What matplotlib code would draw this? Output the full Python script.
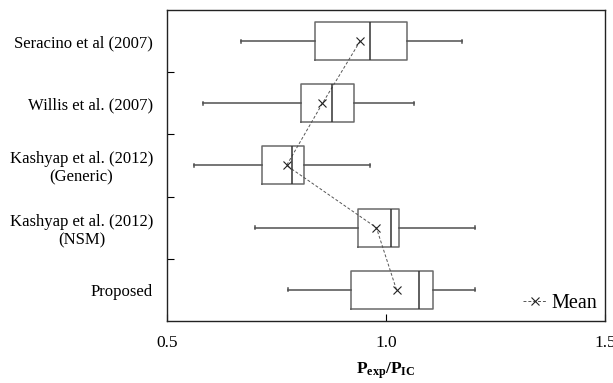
import matplotlib
matplotlib.use("Agg")
import matplotlib.pyplot as plt

plt.rcParams['font.family'] = ['Liberation Serif', 'DejaVu Serif']
plt.rcParams['mathtext.fontset'] = 'custom'
plt.rcParams['mathtext.bf'] = 'Liberation Serif:bold'
plt.rcParams['mathtext.rm'] = 'Liberation Serif'

# data (top to bottom)
labels = ['Seracino et al (2007)', 'Willis et al. (2007)',
          'Kashyap et al. (2012)\n(Generic)', 'Kashyap et al. (2012)\n(NSM)',
          'Proposed']
whislo = [0.670, 0.583, 0.562, 0.701, 0.776]
q1 = [0.837, 0.805, 0.718, 0.935, 0.921]
med = [0.964, 0.877, 0.786, 1.012, 1.076]
q3 = [1.047, 0.928, 0.813, 1.029, 1.108]
whishi = [1.173, 1.065, 0.963, 1.203, 1.203]
means = [0.941, 0.855, 0.773, 0.978, 1.024]

n = len(labels)
pos = [n - 1 - i for i in range(n)]

stats = []
for i in range(n):
    stats.append(dict(whislo=whislo[i], q1=q1[i], med=med[i], q3=q3[i],
                      whishi=whishi[i], fliers=[], label=labels[i]))

fig = plt.figure(figsize=(6.13, 3.83), dpi=100)
ax = fig.add_axes([0.2724, 0.162, 0.7146, 0.812])

gray = '#6a6a6a'
ax.bxp(stats, positions=pos, vert=False, widths=0.61, showfliers=False,
       capwidths=0.05,
       boxprops=dict(color=gray, linewidth=1.1),
       whiskerprops=dict(color='#505050', linewidth=1.1),
       capprops=dict(color='#505050', linewidth=1.1),
       medianprops=dict(color='#333333', linewidth=1.1))

ax.plot(means, pos, linestyle='--', color='#555555', linewidth=0.7,
        marker='x', markersize=6, markeredgecolor='#222222',
        markeredgewidth=0.8, dashes=(3, 2), label='Mean')

ax.set_xlim(0.5, 1.5)
ax.set_ylim(-0.5, n - 0.5)
ax.set_xticks([0.5, 1.0, 1.5])
ax.set_xticklabels(['0.5', '1.0', '1.5'])
ax.set_yticks(pos)
ax.set_yticklabels(labels, fontsize=12, ha='right', multialignment='center')
ax.tick_params(axis='y', which='major', length=0, pad=10)
ax.set_yticks([0.5, 1.5, 2.5, 3.5], minor=True)
ax.tick_params(axis='y', which='minor', direction='in', length=5, width=0.8)
ax.tick_params(axis='x', direction='in', length=5, width=0.8, pad=10,
               labelsize=12.5)
for s in ax.spines.values():
    s.set_linewidth(1.0)
    s.set_color('#222222')

ax.set_xlabel(r'$\mathbf{P_{exp}/P_{IC}}$', fontsize=12.5, labelpad=7)

ax.legend(loc='lower right', frameon=False, fontsize=14.5, handlelength=1.2,
          handletextpad=0.2, borderaxespad=0.0)

fig.savefig('out.png', dpi=100)
